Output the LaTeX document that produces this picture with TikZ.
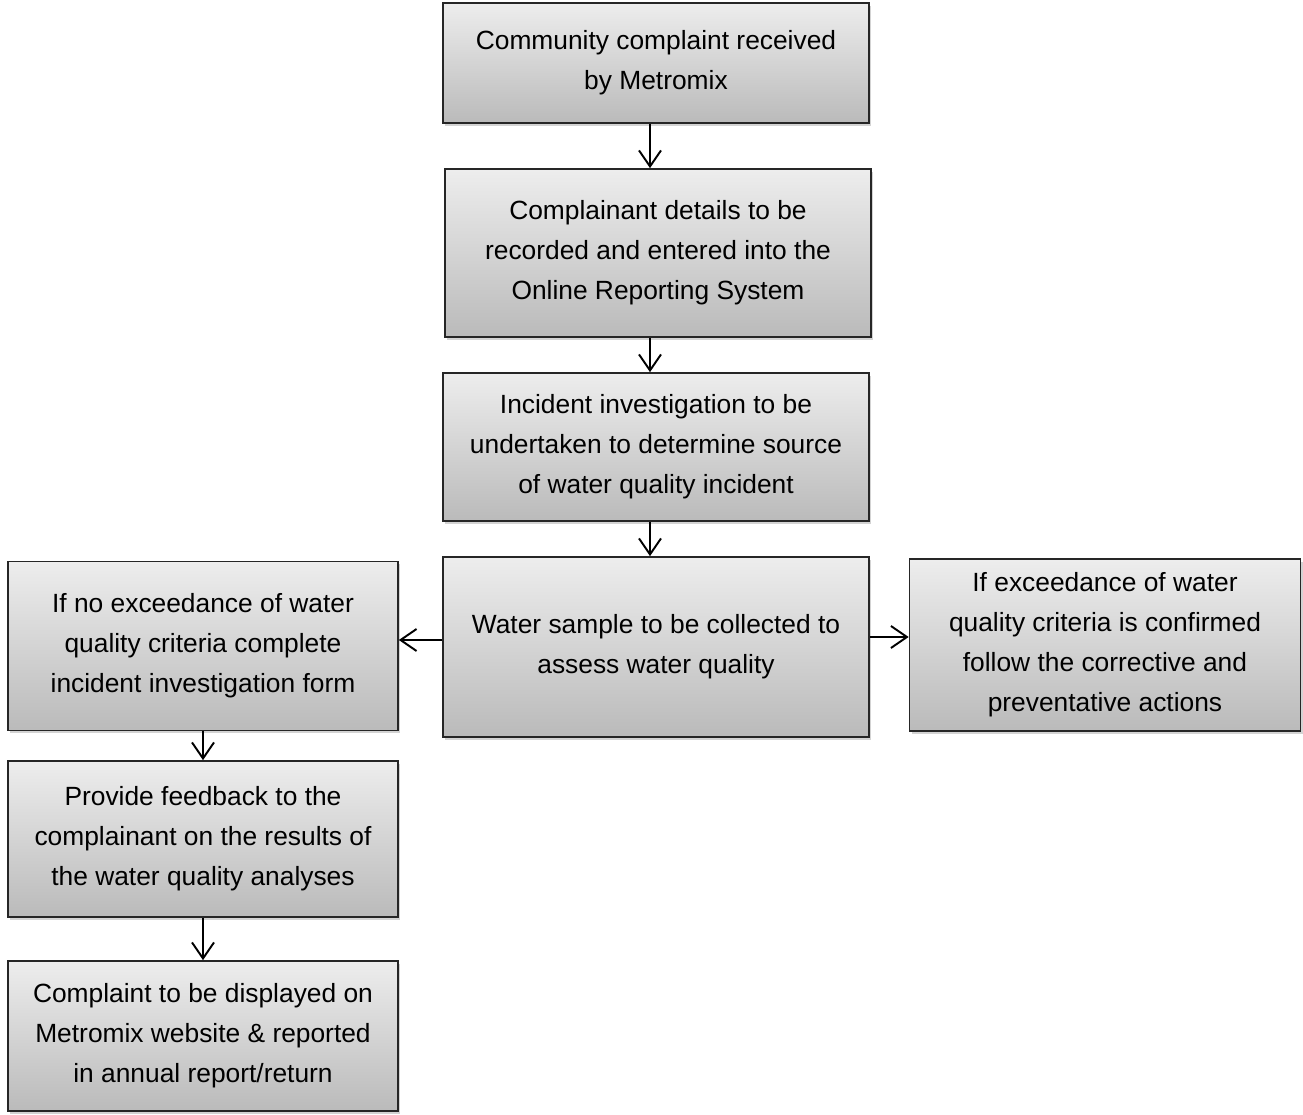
\documentclass[tikz,border=0pt]{standalone}
\usepackage{fontspec}
\setmainfont{Liberation Sans}
\usetikzlibrary{arrows.meta,shadows}
\begin{document}
\begin{tikzpicture}[x=0.02cm, y=-0.02cm,
  box/.style={draw=black!85, line width=1pt, top color=black!7, bottom color=black!27,
              drop shadow={opacity=0.35, shadow xshift=1.2pt, shadow yshift=-1.5pt},
              align=center, inner sep=2pt,
              font=\fontsize{15}{22.8}\selectfont},
  line/.style={-{Straight Barb[length=0.32cm, width=0.44cm]}, line width=1.1pt}
]
\useasboundingbox (0,0) rectangle (1303,1115);
\node[box, minimum width=8.52cm, minimum height=2.4cm]  (recv)   at (656,63)  {Community complaint received\\by Metromix};
\node[box, minimum width=8.52cm, minimum height=3.36cm] (record) at (658,253) {Complainant details to be\\recorded and entered into the\\Online Reporting System};
\node[box, minimum width=8.52cm, minimum height=2.96cm] (invest) at (656,447) {Incident investigation to be\\undertaken to determine source\\of water quality incident};
\node[box, minimum width=8.52cm, minimum height=3.6cm]  (sample) at (656,647) {Water sample to be collected to\\assess water quality};
\node[box, minimum width=7.8cm, minimum height=3.38cm]  (noexc)  at (203,646) {If no exceedance of water\\quality criteria complete\\incident investigation form};
\node[box, minimum width=7.82cm, minimum height=3.44cm] (exc)    at (1105,645) {If exceedance of water\\quality criteria is confirmed\\follow the corrective and\\preventative actions};
\node[box, minimum width=7.8cm, minimum height=3.12cm]  (fback)  at (203,839) {Provide feedback to the\\complainant on the results of\\the water quality analyses};
\node[box, minimum width=7.8cm, minimum height=3.0cm]   (report) at (203,1036) {Complaint to be displayed on\\Metromix website \& reported\\in annual report/return};
\draw[line] (recv.south -| 650,0)   -- (record.north -| 650,0);
\draw[line] (record.south -| 650,0) -- (invest.north -| 650,0);
\draw[line] (invest.south -| 650,0) -- (sample.north -| 650,0);
\draw[line] (sample.west |- 0,640) -- (noexc.east |- 0,640);
\draw[line] (sample.east |- 0,637) -- (exc.west |- 0,637);
\draw[line] (noexc)  -- (fback);
\draw[line] (fback)  -- (report);
\end{tikzpicture}
\end{document}
